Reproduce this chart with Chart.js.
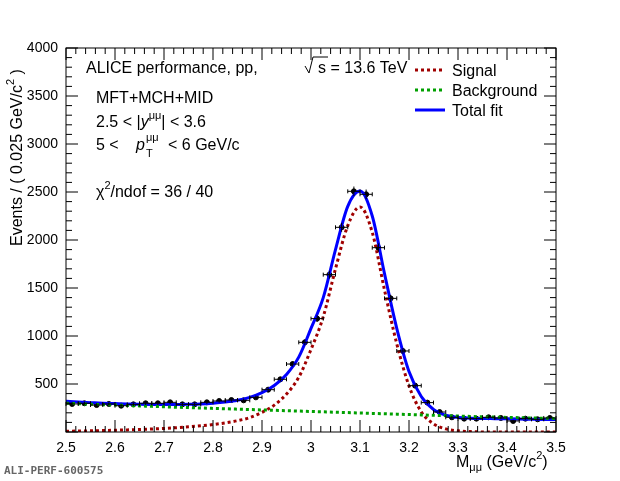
<!DOCTYPE html>
<html>
<head>
<meta charset="utf-8">
<script src="https://cdn.jsdelivr.net/npm/chart.js@4.4.0/dist/chart.umd.min.js"></script>
<style>
  body { margin: 0; background: #fff; }
  #wrap { width: 620px; height: 481px; position: relative; }
</style>
</head>
<body>
<div id="wrap"><canvas id="myChart" width="620" height="481"></canvas></div>
<script>
// données
const binWidth = 0.025;
const xStart = 2.5;
const counts = [292, 299, 281, 292, 274, 288, 299, 299, 309, 288,
                288, 309, 323, 333, 330, 361, 441, 549, 708, 934,
                1181, 1639, 2132, 2507, 2476, 1920, 1392, 844, 483, 306,
                208, 153, 139, 139, 153, 146, 115, 139, 132, 146];
// courbes d'ajustement aux bords des bins (2.5, 2.525, ... 3.5)
const totalFit = [320, 312, 306, 300, 296, 292, 289, 287, 286, 286,
                  288, 292, 300, 312, 330, 360, 410, 485, 600, 780,
                  1080, 1400, 1900, 2350, 2510, 2250, 1650, 1080, 630, 370,
                  235, 175, 152, 144, 141, 139, 137, 135, 133, 131, 130];
const signalFit = [8, 10, 12, 15, 18, 22, 26, 31, 37, 45,
                   54, 64, 78, 95, 118, 150, 205, 280, 395, 570,
                   860, 1200, 1700, 2150, 2345, 2080, 1480, 920, 480, 210,
                   85, 32, 12, 4, 1, 1, 1, 1, 1, 1, 1];
const bkgFit = [300, 295, 290, 285, 281, 276, 272, 267, 263, 258,
                254, 250, 246, 242, 238, 234, 230, 226, 222, 218,
                214, 210, 206, 202, 198, 194, 190, 186, 182, 178,
                174, 170, 166, 162, 158, 155, 152, 149, 146, 143, 140];
const xTicks = ['2.5', '2.6', '2.7', '2.8', '2.9', '3', '3.1', '3.2', '3.3', '3.4', '3.5'];
const yTicks = [500, 1000, 1500, 2000, 2500, 3000, 3500, 4000];

const pts = counts.map((c, i) => ({ x: xStart + binWidth * (i + 0.5), y: c }));
const edge = v => v.map((y, i) => ({ x: xStart + binWidth * i, y: y }));

const FONT = '"Liberation Sans", Arial, sans-serif';

// écrit une suite de morceaux [texte, taille, décalage vertical, italique]
function runText(ctx, parts, x, y) {
    parts.forEach(p => {
        ctx.font = (p[3] ? 'italic ' : '') + p[1] + 'px ' + FONT;
        ctx.fillText(p[0], x, y + p[2]);
        x += ctx.measureText(p[0]).width;
    });
}

// barres d'erreur, ticks internes, cadre et textes façon ROOT
const rootStyle = {
    id: 'rootStyle',
    afterDatasetsDraw(chart) {
        const { ctx, chartArea: a, scales: { x, y } } = chart;
        ctx.save();
        ctx.strokeStyle = '#000';
        ctx.lineWidth = 1;
        pts.forEach(p => {
            const px = x.getPixelForValue(p.x), py = y.getPixelForValue(p.y);
            const e = Math.sqrt(p.y);
            const l = x.getPixelForValue(p.x - binWidth / 2), r = x.getPixelForValue(p.x + binWidth / 2);
            ctx.beginPath();
            ctx.moveTo(l, py); ctx.lineTo(r, py);
            ctx.moveTo(l, py - 2); ctx.lineTo(l, py + 2);
            ctx.moveTo(r, py - 2); ctx.lineTo(r, py + 2);
            ctx.moveTo(px, y.getPixelForValue(p.y - e));
            ctx.lineTo(px, y.getPixelForValue(p.y + e));
            ctx.stroke();
        });
        ctx.strokeRect(a.left, a.top, a.right - a.left, a.bottom - a.top);
        for (let i = 0; i <= 50; i++) {
            const px = x.getPixelForValue(2.5 + i * 0.02);
            const len = i % 5 === 0 ? 12 : 6;
            ctx.beginPath();
            ctx.moveTo(px, a.bottom); ctx.lineTo(px, a.bottom - len);
            ctx.moveTo(px, a.top); ctx.lineTo(px, a.top + len);
            ctx.stroke();
        }
        for (let i = 0; i <= 40; i++) {
            const py = y.getPixelForValue(i * 100);
            const len = i % 5 === 0 ? 12 : 6;
            ctx.beginPath();
            ctx.moveTo(a.left, py); ctx.lineTo(a.left + len, py);
            ctx.moveTo(a.right, py); ctx.lineTo(a.right - len, py);
            ctx.stroke();
        }
        ctx.fillStyle = '#000';
        ctx.textBaseline = 'alphabetic';
        ctx.textAlign = 'left';
        runText(ctx, [['ALICE performance, pp,', 16, 0]], 86, 73);
        runText(ctx, [['s = 13.6 TeV', 16, 0]], 318, 73);
        ctx.beginPath();
        ctx.moveTo(305, 66); ctx.lineTo(309, 73); ctx.lineTo(313, 57); ctx.lineTo(328, 57);
        ctx.stroke();
        runText(ctx, [['MFT+MCH+MID', 16, 0]], 96, 103);
        runText(ctx, [['2.5 < |', 16, 0], ['y', 16, 0, true], ['\u03bc\u03bc', 11, -8], ['| < 3.6', 16, 0]], 96, 127);
        runText(ctx, [['5 <', 16, 0]], 96, 150);
        runText(ctx, [['p', 16, 0, true]], 136, 150);
        runText(ctx, [['\u03bc\u03bc', 11, -9]], 146, 150);
        runText(ctx, [['T', 11, 7]], 146, 150);
        runText(ctx, [['< 6 GeV/c', 16, 0]], 168, 150);
        runText(ctx, [['\u03c7', 16, 0], ['2', 11, -8], ['/ndof = 36 / 40', 16, 0]], 96, 197);
        const leg = [['Signal', '#a00000', [3, 3]], ['Background', '#00a000', [3, 3]], ['Total fit', '#0000ff', []]];
        ctx.font = '16px ' + FONT;
        leg.forEach((l, i) => {
            const yy = 70 + i * 20;
            ctx.strokeStyle = l[1];
            ctx.lineWidth = 3;
            ctx.setLineDash(l[2]);
            ctx.beginPath(); ctx.moveTo(415, yy); ctx.lineTo(445, yy); ctx.stroke();
            ctx.setLineDash([]);
            ctx.fillText(l[0], 452, yy + 6);
        });
        runText(ctx, [['M', 16, 0], ['\u03bc\u03bc', 11, 4], [' (GeV/c', 16, 0], ['2', 11, -8], [')', 16, 0]], 456, 467);
        ctx.save();
        ctx.translate(22, 246);
        ctx.rotate(-Math.PI / 2);
        runText(ctx, [['Events / ( 0.025 GeV/c', 16, 0], ['2', 11, -8], [' )', 16, 0]], 0, 0);
        ctx.restore();
        ctx.fillStyle = '#666';
        ctx.font = 'bold 11px "DejaVu Sans Mono", monospace';
        ctx.fillText('ALI-PERF-600575', 4, 474);
        ctx.restore();
    }
};

new Chart(document.getElementById('myChart'), {
    type: 'scatter',
    data: {
        datasets: [
            { data: edge(bkgFit), showLine: true, borderColor: '#00a000', borderWidth: 3, borderDash: [3, 3], pointRadius: 0, cubicInterpolationMode: 'monotone' },
            { data: edge(signalFit), showLine: true, borderColor: '#a00000', borderWidth: 3, borderDash: [3, 3], pointRadius: 0, cubicInterpolationMode: 'monotone' },
            { data: edge(totalFit), showLine: true, borderColor: '#0000ff', borderWidth: 3, pointRadius: 0, cubicInterpolationMode: 'monotone' },
            { data: pts, pointRadius: 2.5, backgroundColor: '#000', borderColor: '#000' }
        ]
    },
    options: {
        responsive: false,
        animation: false,
        layout: { padding: { top: 48, right: 64, left: 0, bottom: 0 } },
        plugins: { legend: { display: false }, tooltip: { enabled: false } },
        scales: {
            x: {
                min: 2.5, max: 3.5,
                afterFit: s => { s.height = 49; },
                afterBuildTicks: s => { s.ticks = xTicks.map(t => ({ value: parseFloat(t) })); },
                grid: { display: false },
                border: { display: false },
                ticks: { color: '#000', font: { family: FONT, size: 14 }, padding: 0, maxRotation: 0,
                         callback: (v, i) => xTicks[i] }
            },
            y: {
                min: 0, max: 4000,
                afterFit: s => { s.width = 66; },
                afterBuildTicks: s => { s.ticks = yTicks.map(v => ({ value: v })); },
                grid: { display: false },
                border: { display: false },
                ticks: { color: '#000', font: { family: FONT, size: 14 }, padding: 0,
                         callback: v => String(v) }
            }
        }
    },
    plugins: [rootStyle]
});
</script>
</body>
</html>
